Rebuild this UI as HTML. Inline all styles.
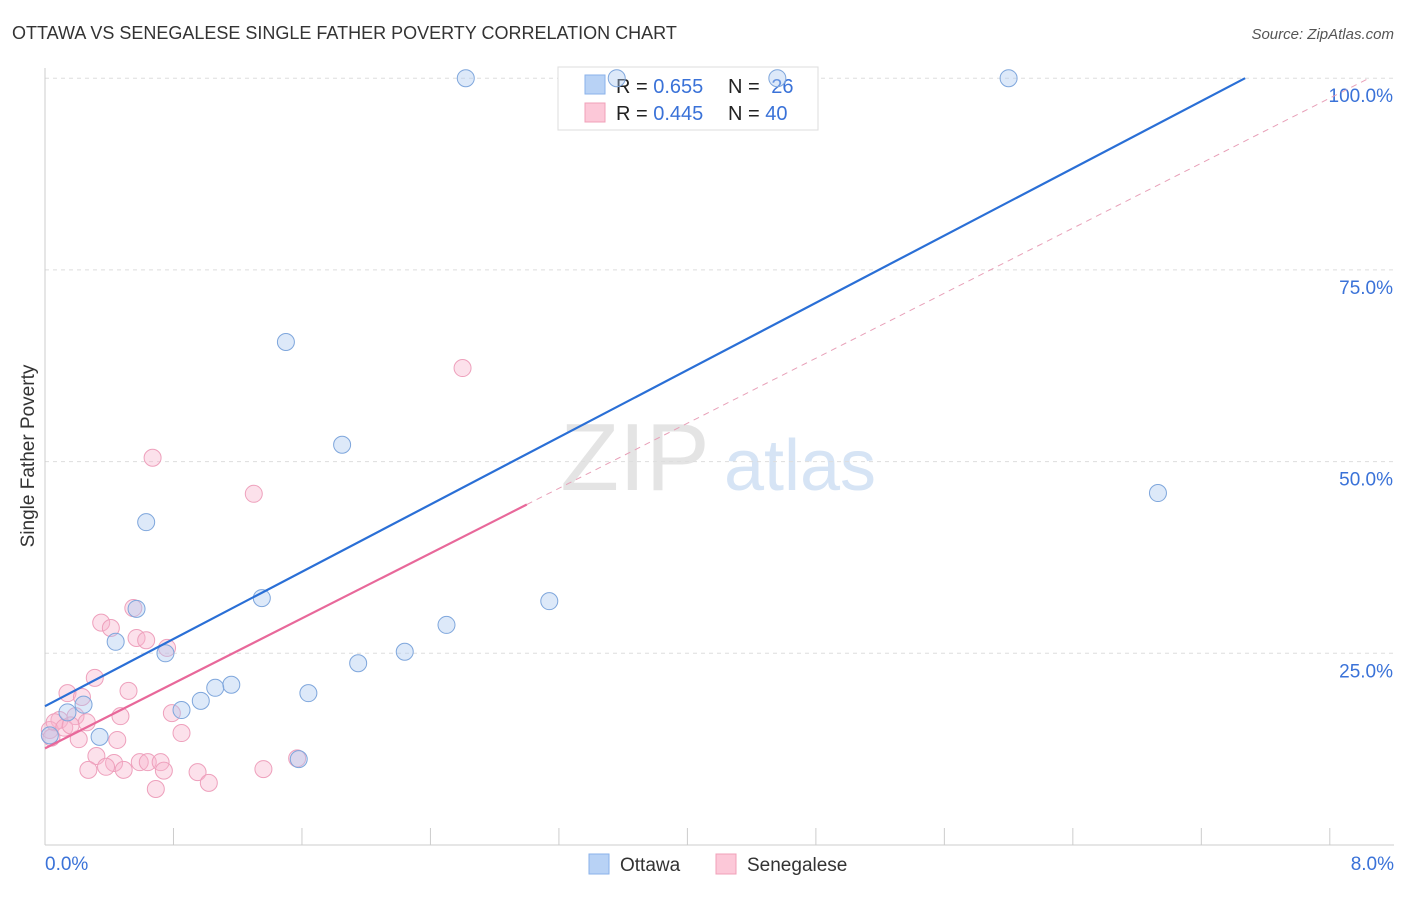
<!DOCTYPE html>
<html><head><meta charset="utf-8"><style>
body{margin:0;background:#fff;font-family:"Liberation Sans",sans-serif}
svg text{font-family:"Liberation Sans",sans-serif}
</style></head><body>
<svg width="1406" height="892" xmlns="http://www.w3.org/2000/svg">
<text x="12" y="39" font-size="18" fill="#333">OTTAWA VS SENEGALESE SINGLE FATHER POVERTY CORRELATION CHART</text>
<text x="1394" y="39" font-size="15" fill="#555" font-style="italic" text-anchor="end">Source: ZipAtlas.com</text>
<text x="635" y="490" font-size="96" fill="#e4e4e4" font-family="Liberation Serif" text-anchor="middle">ZIP</text>
<text x="800" y="490" font-size="72" fill="#d6e4f5" text-anchor="middle">atlas</text>
<g id="grid"></g>
<g id="axes"></g>
<g>
<rect x="558" y="67" width="260" height="63" fill="#fff" stroke="#ddd"/>
<rect x="585" y="75" width="20" height="19" fill="#b8d2f5" stroke="#8ab2ea"/>
<rect x="585" y="103" width="20" height="19" fill="#fcc8d8" stroke="#f0a0b8"/>
<text x="616" y="93" font-size="20" fill="#222">R = <tspan fill="#3a72d8">0.655</tspan></text>
<text x="728" y="93" font-size="20" fill="#222">N = <tspan fill="#3a72d8" dx="6">26</tspan></text>
<text x="616" y="120" font-size="20" fill="#222">R = <tspan fill="#3a72d8">0.445</tspan></text>
<text x="728" y="120" font-size="20" fill="#222">N = <tspan fill="#3a72d8">40</tspan></text>
</g>
<g id="marks"></g>
<text transform="translate(34,456) rotate(-90)" font-size="19" fill="#333" text-anchor="middle">Single Father Poverty</text>
<text x="45" y="870" font-size="19" fill="#3a72d8">0.0%</text>
<text x="1394" y="870" font-size="19" fill="#3a72d8" text-anchor="end">8.0%</text>
<g>
<rect x="589" y="854" width="20" height="20" fill="#b8d2f5" stroke="#8ab2ea"/>
<text x="620" y="871" font-size="19" fill="#333">Ottawa</text>
<rect x="716" y="854" width="20" height="20" fill="#fcc8d8" stroke="#f0a0b8"/>
<text x="747" y="871" font-size="19" fill="#333">Senegalese</text>
</g>
</svg>
<script>
const yTicks=[25,50,75,100];
const yTickLabels=["25.0%","50.0%","75.0%","100.0%"];
const xTicks=[0,0.8,1.6,2.4,3.2,4.0,4.8,5.6,6.4,7.2,8.0];
const ottawaX=[2.62,6.0,3.56,4.56,1.5,1.85,6.93,0.63,1.35,3.14,0.57,2.5,0.44,0.75,2.24,1.95,1.16,1.06,1.64,0.97,0.85,0.24,0.14,0.34,1.58,0.03];
const ottawaY=[100,100,100,100,65.6,52.2,45.9,42.1,32.2,31.8,30.8,28.7,26.5,25.0,25.2,23.7,20.9,20.5,19.8,18.8,17.6,18.3,17.3,14.1,11.2,14.3];
const senX=[2.6,0.67,1.3,0.55,0.35,0.41,0.57,0.63,0.76,0.31,0.52,0.14,0.23,0.47,0.79,0.19,0.26,0.09,0.85,0.45,0.21,0.32,1.57,0.59,0.43,0.64,0.72,0.38,0.49,0.27,0.74,0.95,1.36,1.02,0.69,0.03,0.06,0.12,0.04,0.16];
const senY=[62.2,50.5,45.8,30.9,29.0,28.3,27.0,26.7,25.7,21.8,20.1,19.8,19.3,16.8,17.2,16.8,16.0,16.3,14.6,13.7,13.8,11.6,11.3,10.8,10.7,10.8,10.8,10.2,9.8,9.8,9.7,9.5,9.9,8.1,7.3,15,16,15.3,14,15.6];
const ottawaLine=[18.1,10.96];
const senLine=[12.6,10.6];
const sx=v=>45+v*160.6, sy=v=>845-v*7.668;
const NS="http://www.w3.org/2000/svg";
function mk(parent,tag,attrs){const e=document.createElementNS(NS,tag);for(const k in attrs)e.setAttribute(k,attrs[k]);document.getElementById(parent).appendChild(e);return e;}
yTicks.forEach((t,i)=>{
 const l=mk('grid','line',{x1:45,x2:1394,y1:sy(t),y2:sy(t),stroke:'#ddd','stroke-dasharray':'4,4'});
 
 
 const tx=mk('axes','text',{x:1393,y:sy(t)+24,'font-size':19,fill:'#3a72d8','text-anchor':'end'});
 tx.textContent=yTickLabels[i];
 
 
});
const ya=mk('axes','line',{x1:45,x2:45,y1:68,y2:845,stroke:'#ccc'});


const xa=mk('axes','line',{x1:45,x2:1394,y1:845,y2:845,stroke:'#ccc'});


xTicks.forEach(t=>{
 const l=mk('axes','line',{x1:sx(t),x2:sx(t),y1:828,y2:845,stroke:'#ccc'});
 
 
});
senX.forEach((x,i)=>{
 const c=mk('marks','circle',{cx:sx(x),cy:sy(senY[i]),r:8.5,fill:'rgba(248,180,204,0.4)',stroke:'#eea0bc','stroke-width':1});
 
 
});
ottawaX.forEach((x,i)=>{
 const c=mk('marks','circle',{cx:sx(x),cy:sy(ottawaY[i]),r:8.5,fill:'rgba(170,200,240,0.4)',stroke:'#7ea6dc','stroke-width':1});
 
 
});
const xEndO=(100-ottawaLine[0])/ottawaLine[1];
const lo=mk('marks','line',{x1:sx(0),y1:sy(ottawaLine[0]),x2:sx(xEndO),y2:sy(100),stroke:'#2a6fd6','stroke-width':2.2});


const ls=mk('marks','line',{x1:sx(0),y1:sy(senLine[0]),x2:sx(3),y2:sy(senLine[0]+3*senLine[1]),stroke:'#e8689a','stroke-width':2.2});


const xEndS=(100-senLine[0])/senLine[1];
const ld=mk('marks','line',{x1:sx(3),y1:sy(senLine[0]+3*senLine[1]),x2:sx(xEndS),y2:sy(100),stroke:'#e8a0b8','stroke-width':1,'stroke-dasharray':'6,5'});


</script>
</body></html>
